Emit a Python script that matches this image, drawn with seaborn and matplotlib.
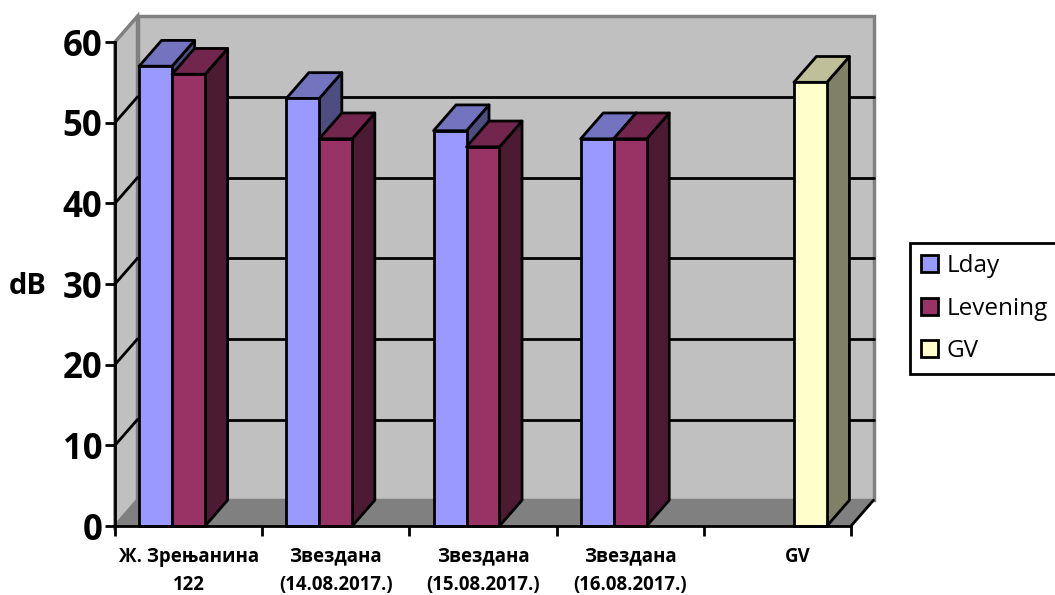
import matplotlib
matplotlib.use("Agg")
import matplotlib.pyplot as plt
from matplotlib.patches import Polygon
from matplotlib.transforms import ScaledTranslation
import seaborn as sns
import pandas as pd

categories = ["Ж. Зрењанина\n122", "Звездана\n(14.08.2017.)", "Звездана\n(15.08.2017.)",
              "Звездана\n(16.08.2017.)", "GV"]
series = ["Lday", "Levening", "GV"]
lday = [57, 53, 49, 48, None]
levening = [56, 48, 47, 48, None]
gv = [None, None, None, None, 55]
yticks = [0, 10, 20, 30, 40, 50, 60]

front_colors = ["#9999FF", "#993366", "#FFFFCC"]
top_colors = ["#7373BF", "#73264D", "#BFBF99"]
side_colors = ["#4D4D80", "#4D1A33", "#808066"]

# how far the back wall sits from the front plane, in data units
DX = 0.153
DY = 3.2

sns.set_theme(style="white")
plt.rcParams['font.family'] = ['Open Sans', 'DejaVu Sans']

df = pd.DataFrame({
    "cat": categories * 3,
    "series": ["Lday"] * 5 + ["Levening"] * 5 + ["GV"] * 5,
    "value": lday + levening + gv,
}).dropna()
df["value"] = df["value"].astype(float)

fig = plt.figure(figsize=(10.55, 5.95), dpi=100, facecolor="white")
ax = fig.add_axes([115 / 1055, 1 - 526 / 595, 736 / 1055, 484 / 595])

sns.barplot(data=df, x="cat", y="value", hue="series", order=categories, hue_order=series,
            palette=front_colors, width=0.6725, saturation=1, edgecolor="black", linewidth=2,
            legend=True, ax=ax)
ax.set_xlim(-0.5, 4.5)
ax.set_ylim(0, 60)
ax.patch.set_visible(False)
xmin, xmax, ymin, ymax = -0.5, 4.5, 0, 60

# walls and floor of the 3d box
wall_kw = dict(closed=True, clip_on=False, facecolor="#C0C0C0", edgecolor="#808080", linewidth=2.5, zorder=0.5)
ax.add_patch(Polygon([(xmin, ymin), (xmin, ymax), (xmin + DX, ymax + DY), (xmin + DX, ymin + DY)], **wall_kw))
ax.add_patch(Polygon([(xmin + DX, ymin + DY), (xmin + DX, ymax + DY), (xmax + DX, ymax + DY), (xmax + DX, ymin + DY)], **wall_kw))
ax.add_patch(Polygon([(xmin, ymin), (xmax, ymin), (xmax + DX, ymin + DY), (xmin + DX, ymin + DY)],
                     closed=True, clip_on=False, facecolor="#808080", edgecolor="#808080", linewidth=1, zorder=0.6))
ax.plot([xmax, xmax + DX], [ymin, ymin + DY], color="black", lw=2, clip_on=False, zorder=0.7)

for v in yticks[1:-1]:
    ax.plot([xmin + DX, xmax + DX], [v + DY, v + DY], color="black", lw=2, clip_on=False, zorder=0.7)
    ax.plot([xmin, xmin + DX], [v, v + DY], color="black", lw=2, clip_on=False, zorder=0.7)

# side and top faces for each bar, left to right so the overlaps come out right
bars = []
for i, cont in enumerate(ax.containers):
    for b in cont:
        if b.get_height() == b.get_height():
            bars.append((b.get_x(), i, b))
bars.sort(key=lambda t: t[0])

for n, (x0, i, b) in enumerate(bars):
    x1 = x0 + b.get_width()
    h = b.get_height()
    z = 3 + n * 0.1
    edge = dict(closed=True, clip_on=False, edgecolor="black", linewidth=2, joinstyle="round")
    ax.add_patch(Polygon([(x1, 0), (x1, h), (x1 + DX, h + DY), (x1 + DX, DY)],
                         facecolor=side_colors[i], zorder=z, **edge))
    ax.add_patch(Polygon([(x0, h), (x1, h), (x1 + DX, h + DY), (x0 + DX, h + DY)],
                         facecolor=top_colors[i], zorder=z + 0.01, **edge))
    b.set_zorder(z + 0.02)
    b.set_clip_on(False)

# axes
for s in ["top", "right"]:
    ax.spines[s].set_visible(False)
for s in ["left", "bottom"]:
    ax.spines[s].set_color("black")
    ax.spines[s].set_linewidth(2)
    ax.spines[s].set_zorder(10)

ax.set_yticks(yticks)
ax.set_yticklabels([str(v) for v in yticks], fontsize=25, fontweight="bold", color="black")
ax.tick_params(axis="y", left=True, length=7, width=2, color="black", pad=2)
ax.set_xticks([i + 0.5 for i in range(-1, 5)])
ax.set_xticklabels([])
ax.set_xticks(range(5), minor=True)
ax.set_xticklabels(categories, minor=True, fontsize=13.4, fontweight="bold", color="black", linespacing=1.55)
ax.tick_params(axis="x", which="major", bottom=True, length=7, width=2, color="black")
ax.tick_params(axis="x", which="minor", bottom=False, length=0, pad=15)
ax.set_xlabel("")
ax.set_ylabel("")
fig.text(28 / 1055, 1 - 286 / 595, "dB", fontsize=21, fontweight="bold", ha="center", va="center", color="black")

# the GV label sits off centre in the original, about 20 px to the right
gv_label = ax.get_xticklabels(minor=True)[-1]
gv_label.set_transform(gv_label.get_transform() + ScaledTranslation(0.2, 0, fig.dpi_scale_trans))

# legend box runs off the right edge in the original
handles, labels = ax.get_legend_handles_labels()
leg = ax.legend(handles, labels, loc="upper left", bbox_to_anchor=(910 / 1055, 1 - 243 / 595),
                bbox_transform=fig.transFigure, borderaxespad=0, fancybox=False, framealpha=1,
                edgecolor="black", facecolor="white", fontsize=17.5, handlelength=0.7, handleheight=0.7,
                handletextpad=0.33, labelspacing=0.76, borderpad=0.46, labelcolor="black", title=None)
leg.get_frame().set_linewidth(2)
leg.set_zorder(20)
for h in leg.get_patches():
    h.set_edgecolor("black")
    h.set_linewidth(2)

fig.savefig("out.png", dpi=100)
